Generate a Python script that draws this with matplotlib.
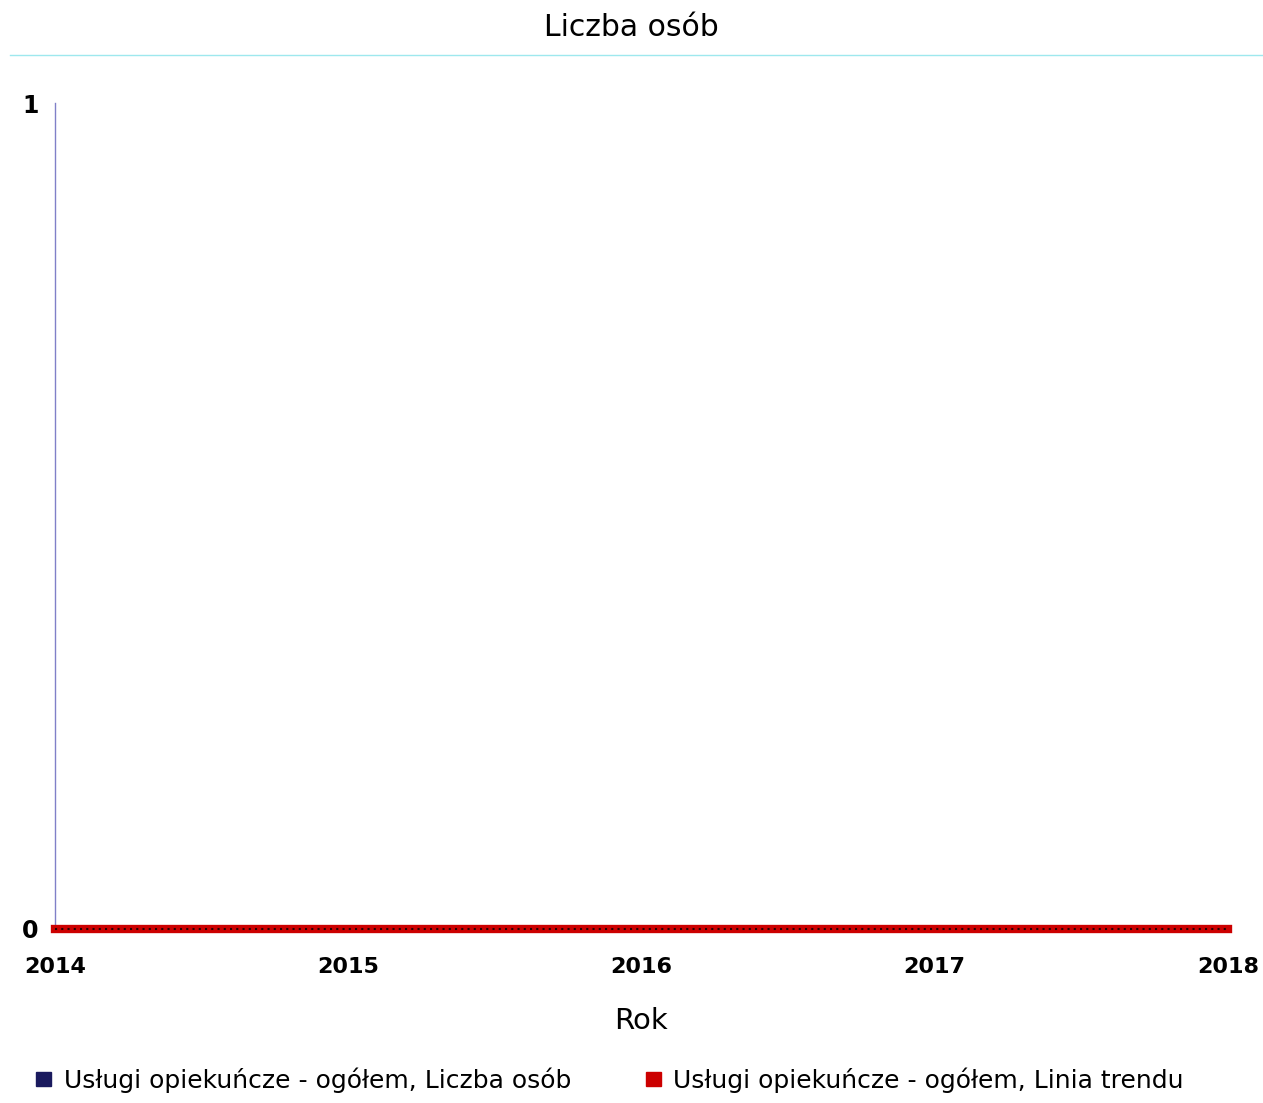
import matplotlib
matplotlib.use("Agg")
import matplotlib.pyplot as plt
from matplotlib.patches import Patch
from matplotlib.lines import Line2D

# dane
lata = [2014, 2015, 2016, 2017, 2018]
liczba_osob = [0, 0, 0, 0, 0]
linia_trendu = [0, 0, 0, 0, 0]
y_ticks = [0, 1]

tytul = "Liczba osób"
os_x = "Rok"
seria1 = "Usługi opiekuńcze - ogółem, Liczba osób"
seria2 = "Usługi opiekuńcze - ogółem, Linia trendu"

plt.rcParams['font.family'] = ['DejaVu Sans']

fig = plt.figure(figsize=(12.63, 11.03), dpi=100)
ax = fig.add_axes([0.0435, 0.1578, 0.9288, 0.7488])

ax.plot(lata, liczba_osob, color="#1a1a5e", lw=2, zorder=3, clip_on=False)
ax.plot(lata, linia_trendu, color="#cc0000", lw=6, zorder=4, clip_on=False)
ax.plot(lata, linia_trendu, color="#2a0000", lw=1.5, ls=(0, (1, 2)), zorder=5, clip_on=False)

ax.set_xlim(lata[0], lata[-1])
ax.set_ylim(0, 1)
ax.set_xticks(lata)
ax.set_yticks(y_ticks)
ax.set_xticklabels([str(r) for r in lata], fontsize=16, fontweight="bold")
ax.set_yticklabels([str(v) for v in y_ticks], fontsize=17, fontweight="bold")
ax.tick_params(length=0)
ax.tick_params(axis="x", pad=20)
ax.tick_params(axis="y", pad=12)
for lbl in ax.get_xticklabels():
    lbl.set_x(lbl.get_position()[0])

for s in ["top", "right", "bottom"]:
    ax.spines[s].set_visible(False)
ax.spines["left"].set_color("#8080c8")
ax.spines["left"].set_linewidth(1)

ax.set_xlabel(os_x, fontsize=21, labelpad=22)
fig.text(0.5, 0.975, tytul, ha="center", va="center", fontsize=21.5)

# cienka linia pod tytulem
fig.add_artist(Line2D([0.008, 1.0], [0.950, 0.950], color="#9ee8ee", lw=1))

handles = [Patch(color="#1a1a5e"), Patch(color="#cc0000")]
fig.legend(handles, [seria1, seria2], loc="center", bbox_to_anchor=(0.483, 0.021),
           ncol=2, frameon=False, fontsize=18, handlelength=0.6, handleheight=0.5,
           handletextpad=0.5, columnspacing=3.0)

fig.savefig("out.png", dpi=100)
